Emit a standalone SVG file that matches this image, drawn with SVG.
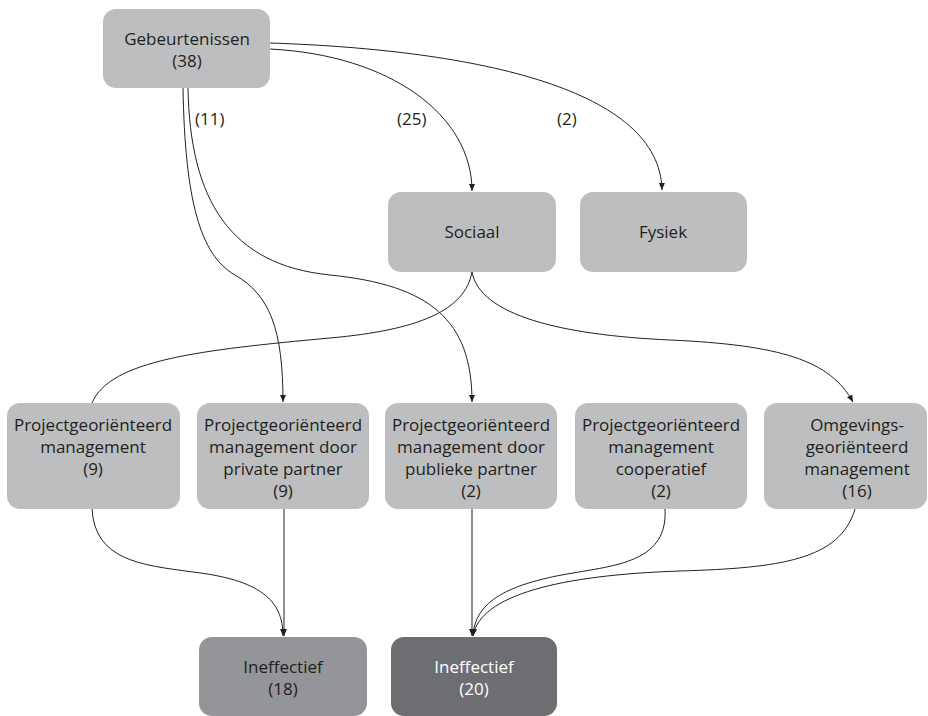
<svg xmlns="http://www.w3.org/2000/svg" width="928" height="716" viewBox="0 0 928 716">
<defs>
<marker id="arr" markerUnits="userSpaceOnUse" markerWidth="8" markerHeight="8" viewBox="0 0 8 8" refX="7" refY="4" orient="auto">
<path d="M0,1 L7,4 L0,7 Z" fill="#231f20"/>
</marker>
<style>
.n{fill:#bcbec0}
.m{fill:#939598}
.d{fill:#6d6e71}
text{font-family:"Open Sans","Liberation Sans",sans-serif;font-size:17px;fill:#231f20;text-anchor:middle}
.w{fill:#ffffff}
.lbl{text-anchor:start}
.c{fill:none;stroke:#231f20;stroke-width:1}
.a{marker-end:url(#arr)}
</style>
</defs>
<rect width="928" height="716" fill="#ffffff"/>
<g id="connectors">
<path class="c a" d="M270,49 C390,55 472,115 472,191"/>
<path class="c a" d="M270,43 C480,50 660,90 662,190"/>
<path class="c a" d="M183,88 C185,200 200,255 235,275 C270,295 283,330 283,402"/>
<path class="c a" d="M188,88 C190,200 230,265 330,275 C430,285 472,320 472,402"/>
<path class="c" d="M472,272 C465,310 420,330 330,338 C200,350 110,360 92,403"/>
<path class="c a" d="M472,272 C480,315 560,335 670,340 C780,345 830,360 853,402"/>
<path class="c a" d="M92,509 C95,560 140,565 193,572 C260,580 283,600 283,636"/>
<path class="c a" d="M284,509 L284,636"/>
<path class="c a" d="M472,509 L472,636"/>
<path class="c a" d="M665,509 C668,560 620,565 573,573 C500,585 475,605 473,636"/>
<path class="c a" d="M855,509 C840,560 780,568 680,571 C560,575 480,595 473,636"/>
<text class="lbl" x="195" y="125">(11)</text>
<text class="lbl" x="397" y="125">(25)</text>
<text class="lbl" x="557" y="125">(2)</text>
</g>
<g id="gebeurtenissen">
<rect class="n" x="103" y="9" width="167" height="79" rx="13"/>
<text x="187" y="45">Gebeurtenissen</text>
<text x="187" y="67">(38)</text>
</g>
<g id="sociaal">
<rect class="n" x="388" y="192" width="168" height="80" rx="13"/>
<text x="472" y="238">Sociaal</text>
</g>
<g id="fysiek">
<rect class="n" x="580" y="192" width="167" height="80" rx="13"/>
<text x="663" y="238">Fysiek</text>
</g>
<g id="pm">
<rect class="n" x="7" y="403" width="173" height="106" rx="13"/>
<text x="93" y="431">Projectgeoriënteerd</text>
<text x="93" y="453">management</text>
<text x="93" y="475">(9)</text>
</g>
<g id="pm-private">
<rect class="n" x="197" y="403" width="172" height="106" rx="13"/>
<text x="283" y="431">Projectgeoriënteerd</text>
<text x="283" y="453">management door</text>
<text x="283" y="475">private partner</text>
<text x="283" y="497">(9)</text>
</g>
<g id="pm-publiek">
<rect class="n" x="385" y="403" width="172" height="106" rx="13"/>
<text x="471" y="431">Projectgeoriënteerd</text>
<text x="471" y="453">management door</text>
<text x="471" y="475">publieke partner</text>
<text x="471" y="497">(2)</text>
</g>
<g id="pm-cooperatief">
<rect class="n" x="575" y="403" width="172" height="106" rx="13"/>
<text x="661" y="431">Projectgeoriënteerd</text>
<text x="661" y="453">management</text>
<text x="661" y="475">cooperatief</text>
<text x="661" y="497">(2)</text>
</g>
<g id="omgeving">
<rect class="n" x="764" y="403" width="163" height="106" rx="13"/>
<text x="857" y="431">Omgevings-</text>
<text x="857" y="453">georiënteerd</text>
<text x="857" y="475">management</text>
<text x="857" y="497">(16)</text>
</g>
<g id="ineffectief-18">
<rect class="m" x="199" y="637" width="168" height="79" rx="13"/>
<text x="283" y="673">Ineffectief</text>
<text x="283" y="695">(18)</text>
</g>
<g id="ineffectief-20">
<rect class="d" x="391" y="637" width="166" height="79" rx="13"/>
<text class="w" x="474" y="673">Ineffectief</text>
<text class="w" x="474" y="695">(20)</text>
</g>
</svg>
